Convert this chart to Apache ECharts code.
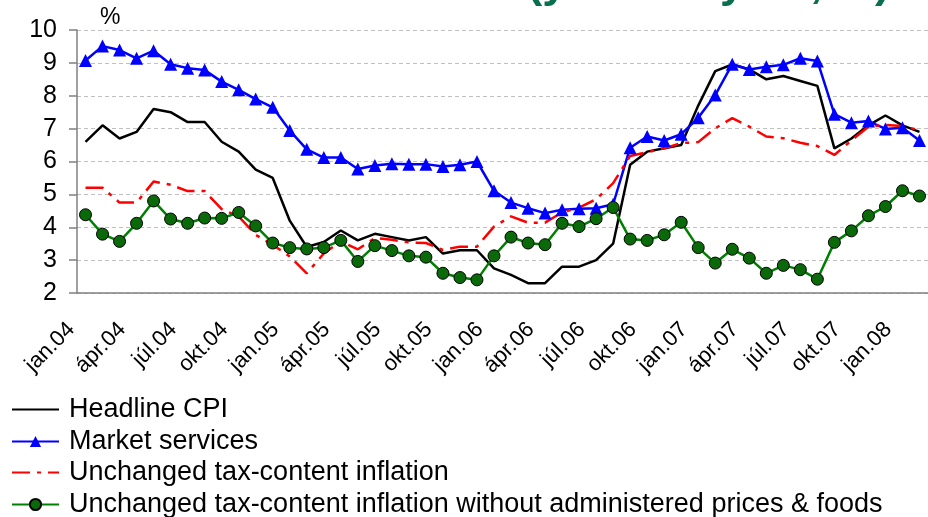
<!DOCTYPE html>
<html>
<head>
<meta charset="utf-8">
<script src="https://cdn.jsdelivr.net/npm/echarts@6/dist/echarts.min.js"></script>
<style>
html,body{margin:0;padding:0;background:#fff;}
#chart{width:928px;height:517px;}
</style>
</head>
<body>
<div id="chart"></div>
<script>
const months = [
 'jan.04','febr.04','márc.04','ápr.04','máj.04','jún.04','júl.04','aug.04','szept.04','okt.04','nov.04','dec.04',
 'jan.05','febr.05','márc.05','ápr.05','máj.05','jún.05','júl.05','aug.05','szept.05','okt.05','nov.05','dec.05',
 'jan.06','febr.06','márc.06','ápr.06','máj.06','jún.06','júl.06','aug.06','szept.06','okt.06','nov.06','dec.06',
 'jan.07','febr.07','márc.07','ápr.07','máj.07','jún.07','júl.07','aug.07','szept.07','okt.07','nov.07','dec.07',
 'jan.08','febr.08'
];
const headlineCPI = [6.6,7.1,6.7,6.9,7.6,7.5,7.2,7.2,6.6,6.3,5.75,5.5,4.2,3.4,3.55,3.9,3.6,3.8,3.7,3.6,3.7,3.2,3.3,3.3,2.75,2.55,2.3,2.3,2.8,2.8,3.0,3.5,5.9,6.3,6.4,6.5,7.7,8.75,8.95,8.8,8.5,8.6,8.45,8.3,6.4,6.7,7.1,7.4,7.1,6.9];
const marketServices = [9.07,9.51,9.39,9.14,9.37,8.96,8.84,8.78,8.43,8.18,7.9,7.65,6.94,6.37,6.12,6.12,5.77,5.88,5.93,5.92,5.92,5.85,5.9,6.0,5.11,4.75,4.58,4.43,4.53,4.56,4.58,4.7,6.42,6.76,6.64,6.83,7.33,8.02,8.96,8.8,8.88,8.94,9.14,9.06,7.44,7.18,7.23,6.99,7.03,6.64];
const unchangedTax = [5.2,5.2,4.75,4.75,5.39,5.29,5.1,5.1,4.55,4.33,3.77,3.47,3.11,2.6,3.2,3.57,3.33,3.67,3.62,3.54,3.52,3.31,3.41,3.41,4.02,4.33,4.14,4.14,4.45,4.6,4.85,5.34,6.17,6.28,6.4,6.56,6.59,7.01,7.32,7.06,6.76,6.71,6.57,6.47,6.2,6.64,7.06,7.11,7.08,6.95];
const unchangedTaxCore = [4.38,3.79,3.57,4.12,4.8,4.25,4.12,4.28,4.27,4.45,4.04,3.52,3.38,3.34,3.38,3.6,2.96,3.44,3.29,3.13,3.09,2.6,2.47,2.4,3.13,3.7,3.52,3.47,4.12,4.02,4.26,4.6,3.64,3.6,3.77,4.15,3.38,2.91,3.33,3.06,2.6,2.84,2.71,2.42,3.54,3.89,4.35,4.63,5.11,4.95];
const seriesNames = ['Headline CPI','Market services','Unchanged tax-content inflation','Unchanged tax-content inflation without administered prices & foods'];
const yTicks = [2,3,4,5,6,7,8,9,10];

const FONT = '"Liberation Sans", Arial, sans-serif';
const legendTops = [391, 423, 454, 486];
function mkLegend(i, hideSymbol){
  const item = {name:seriesNames[i]};
  if (hideSymbol) item.itemStyle = {opacity:0};
  return {
    orient:'vertical', left:6, top:legendTops[i], padding:5, itemWidth:47, itemHeight:14,
    textStyle:{fontSize:27, color:'#000', fontFamily:FONT, padding:[0,0,0,5]},
    data:[item]
  };
}
const chart = echarts.init(document.getElementById('chart'), null, {renderer:'canvas'});
chart.setOption({
  animation:false,
  backgroundColor:'#ffffff',
  textStyle:{fontFamily:FONT},
  grid:{left:77, top:30, width:855, height:263, containLabel:false},
  graphic:[
    {type:'text', left:100, top:6, style:{text:'%', font:'23px '+FONT, fill:'#000'}},
    {type:'text', x:890, y:-15, z:100, style:{text:'(year-on-year, %)', font:'bold 45px '+FONT, fill:'#0b6e4f', textAlign:'right', textVerticalAlign:'middle'}}
  ],
  legend:[mkLegend(0,true), mkLegend(1,false), mkLegend(2,true), mkLegend(3,false)],
  xAxis:{
    type:'category', data:months, boundaryGap:true,
    axisLine:{lineStyle:{color:'#808080', width:1.5}},
    axisTick:{interval:2, length:8, lineStyle:{color:'#808080', width:1.5}},
    axisLabel:{interval:2, rotate:45, color:'#000', margin:19, fontFamily:FONT,
      formatter:function(v){return '{a|' + v + '}';},
      rich:{a:{fontSize:22, color:'#000', fontFamily:FONT, padding:[0,20,0,0]}}},
    splitLine:{show:false}
  },
  yAxis:{
    type:'value', min:yTicks[0], max:yTicks[yTicks.length-1], interval:1,
    axisLine:{show:true, lineStyle:{color:'#808080', width:1.5}},
    axisTick:{show:true, length:8, lineStyle:{color:'#808080', width:1.5}},
    axisLabel:{fontSize:25, color:'#000', margin:20, fontFamily:FONT},
    splitLine:{show:true, lineStyle:{color:'#c0c0c0', type:[4,3], width:1}}
  },
  series:[
    {name:seriesNames[0], type:'line', data:headlineCPI, symbol:'none', lineStyle:{color:'#000', width:2.5}, itemStyle:{color:'#000'}},
    {name:seriesNames[1], type:'line', data:marketServices, symbol:'triangle', symbolSize:13, showAllSymbol:true, lineStyle:{color:'#0000ff', width:2.5}, itemStyle:{color:'#0000ff'}},
    {name:seriesNames[2], type:'line', data:unchangedTax, symbol:'none', lineStyle:{color:'#ff0000', width:2.5, type:[18,7,4,7]}, itemStyle:{color:'#ff0000'}},
    {name:seriesNames[3], type:'line', data:unchangedTaxCore, symbol:'circle', symbolSize:12, showAllSymbol:true, lineStyle:{color:'#008000', width:2.5}, itemStyle:{color:'#0a6a0a', borderColor:'#000', borderWidth:1}}
  ]
});
</script>
</body>
</html>
